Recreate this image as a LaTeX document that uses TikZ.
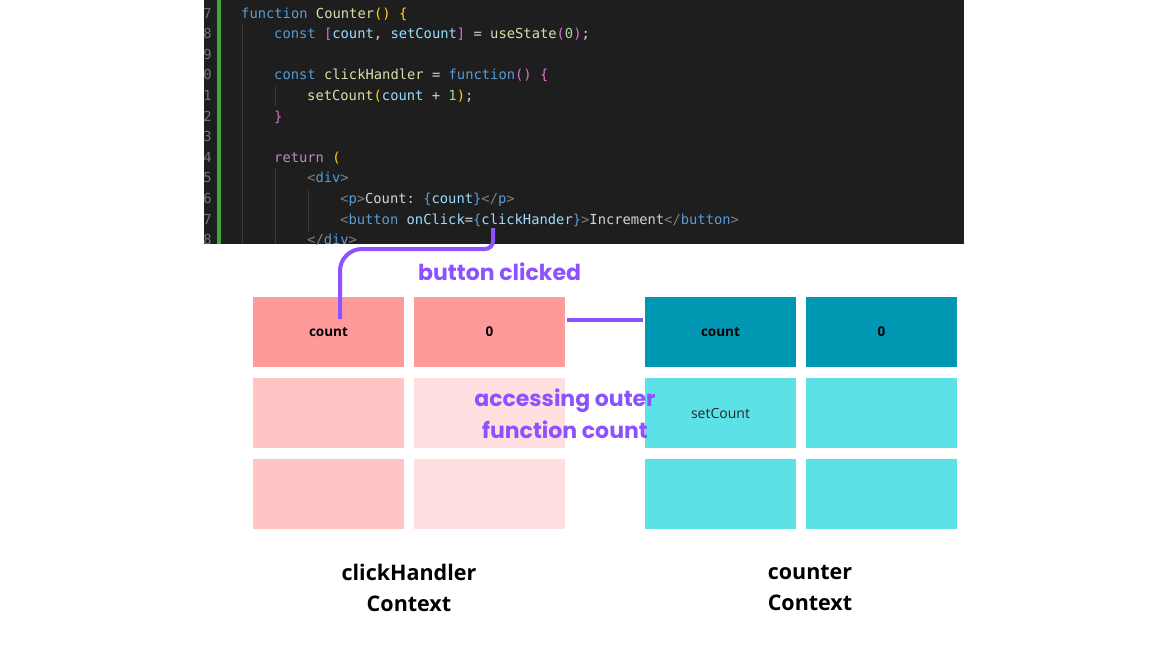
\documentclass[tikz,border=0pt]{standalone}
\usepackage{fontspec}
\setmainfont{Open Sans}
\setmonofont{DejaVu Sans Mono}
\newfontfamily\popfont{Poppins}
\usetikzlibrary{positioning}

\definecolor{codebg}{HTML}{1E1E1E}
\definecolor{kw}{HTML}{569CD6}
\definecolor{fn}{HTML}{DCDCAA}
\definecolor{var}{HTML}{9CDCFE}
\definecolor{num}{HTML}{B5CEA8}
\definecolor{brgold}{HTML}{FFD700}
\definecolor{brpink}{HTML}{DA70D6}
\definecolor{ctl}{HTML}{C586C0}
\definecolor{tag}{HTML}{808080}
\definecolor{txt}{HTML}{D4D4D4}
\definecolor{lineno}{HTML}{6E7681}
\definecolor{guide}{HTML}{3A3A3A}
\definecolor{gitbar}{HTML}{3FA63F}
\definecolor{redtop}{HTML}{FF9A9A}
\definecolor{redmid}{HTML}{FFC4C4}
\definecolor{redpale}{HTML}{FFE0E0}
\definecolor{tealtop}{HTML}{0097B2}
\definecolor{teallow}{HTML}{5CE1E6}
\definecolor{linkcol}{HTML}{8C52FF}

\newcommand{\cc}[2]{\textcolor{#1}{#2}}

\tikzset{
  cell/.style={minimum width=151pt, minimum height=70pt, inner sep=0pt, outer sep=0pt},
  cellred/.style={cell, fill=redtop, font=\fontsize{13.5}{16}\selectfont\bfseries},
  cellredmid/.style={cell, fill=redmid},
  cellredpale/.style={cell, fill=redpale},
  cellteal/.style={cell, fill=tealtop, font=\fontsize{13.5}{16}\selectfont\bfseries},
  celltealow/.style={cell, fill=teallow, font=\fontsize{14}{16}\selectfont, text=black!85},
  codeln/.style={anchor=base west, inner sep=0pt, font=\fontsize{13.8}{16}\selectfont\ttfamily},
  numln/.style={anchor=base east, inner sep=0pt, text=lineno, font=\fontsize{13.8}{16}\selectfont\ttfamily},
  link/.style={draw=linkcol, line width=4pt, line cap=round},
  linktext/.style={text=linkcol, align=center, font=\fontsize{22}{32}\selectfont\popfont\bfseries},
  ctxlabel/.style={align=center, font=\fontsize{21.5}{31}\selectfont\bfseries}
}

\begin{document}
\begin{tikzpicture}[x=1pt, y=-1pt]
	\useasboundingbox (0,0) rectangle (1152,648);
	\fill[white] (0,0) rectangle (1152,648);

	% editor screenshot
	\fill[codebg] (204,0) rectangle (964,244);
	\begin{scope}
		\clip (204,0) rectangle (964,244);
		\foreach \i/\d in {0/7,1/8,2/9,3/0,4/1,5/2,6/3,7/4,8/5,9/6,10/7,11/8}
			\node[numln] at (212,18+20.6*\i) {\d};
		\fill[gitbar] (217,0) rectangle (221,244);
		\draw[guide] (242,24) -- (242,244);
		\draw[guide] (275,86) -- (275,106);
		\draw[guide] (275,168) -- (275,244);
		\draw[guide] (308,189) -- (308,232);
		\node[codeln] (c0) at (241,18) {\cc{kw}{function} \cc{fn}{Counter}\cc{brgold}{() \{}};
		\node[codeln] (c1) at (274,38.6) {\cc{kw}{const} \cc{brpink}{[}\cc{var}{count}\cc{txt}{,} \cc{var}{setCount}\cc{brpink}{]} \cc{txt}{=} \cc{fn}{useState}\cc{brpink}{(}\cc{num}{0}\cc{brpink}{)}\cc{txt}{;}};
		\node[codeln] (c3) at (274,79.8) {\cc{kw}{const} \cc{fn}{clickHandler} \cc{txt}{=} \cc{kw}{function}\cc{brpink}{() \{}};
		\node[codeln] (c4) at (307,100.4) {\cc{fn}{setCount}\cc{brgold}{(}\cc{var}{count} \cc{txt}{+} \cc{num}{1}\cc{brgold}{)}\cc{txt}{;}};
		\node[codeln] (c5) at (274,121) {\cc{brpink}{\}}};
		\node[codeln] (c7) at (274,162.2) {\cc{ctl}{return} \cc{brgold}{(}};
		\node[codeln] (c8) at (307,182.8) {\cc{tag}{<}\cc{kw}{div}\cc{tag}{>}};
		\node[codeln] (c9) at (340,203.4) {\cc{tag}{<}\cc{kw}{p}\cc{tag}{>}\cc{txt}{Count:} \cc{kw}{\{}\cc{var}{count}\cc{kw}{\}}\cc{tag}{</}\cc{kw}{p}\cc{tag}{>}};
		\node[codeln] (c10) at (340,224) {\cc{tag}{<}\cc{kw}{button} \cc{var}{onClick}\cc{txt}{=}\cc{kw}{\{}\cc{var}{clickHander}\cc{kw}{\}}\cc{tag}{>}\cc{txt}{Increment}\cc{tag}{</}\cc{kw}{button}\cc{tag}{>}};
		\node[codeln] (c11) at (307,244.6) {\cc{tag}{</}\cc{kw}{div}\cc{tag}{>}};
	\end{scope}

	% clickHandler context
	\node[cellred] (lcount) at (328.5,332) {count};
	\node[cellred, right=10pt of lcount] (lzero) {0};
	\node[cellredmid, below=11pt of lcount] (lmidA) {};
	\node[cellredpale, below=11pt of lzero] (lmidB) {};
	\node[cellredmid, below=11pt of lmidA] (llowA) {};
	\node[cellredpale, below=11pt of lmidB] (llowB) {};

	% counter context
	\node[cellteal] (rcount) at (720.5,332) {count};
	\node[cellteal, right=10pt of rcount] (rzero) {0};
	\node[celltealow, below=11pt of rcount] (rset) {setCount};
	\node[celltealow, below=11pt of rzero] (rmidB) {};
	\node[celltealow, below=11pt of rset] (rlowA) {};
	\node[celltealow, below=11pt of rmidB] (rlowB) {};

	% connectors
	\coordinate (clk) at (493,228);
	\coordinate (bend) at (0,249);
	\coordinate (hit) at (340,319);
	\draw[link, line cap=butt] (clk) [rounded corners=8pt] -- (clk |- bend) [rounded corners=22pt] -- (hit |- bend) -- (hit);
	\draw[link, line cap=butt, shorten <=2pt, shorten >=2pt] ([yshift=12pt]lzero.east) -- ([yshift=12pt]rcount.west);

	% labels
	\node[linktext, anchor=base west, inner sep=0pt] (clicked) at (418,280) {button clicked};
	\node[linktext, inner sep=0pt] (outer) at (565,414) {accessing outer\\function count};
	\node[ctxlabel] (lctx) at (409,588) {clickHandler\\Context};
	\node[ctxlabel] (rctx) at (810,588) {counter\\Context};
\end{tikzpicture}
\end{document}
